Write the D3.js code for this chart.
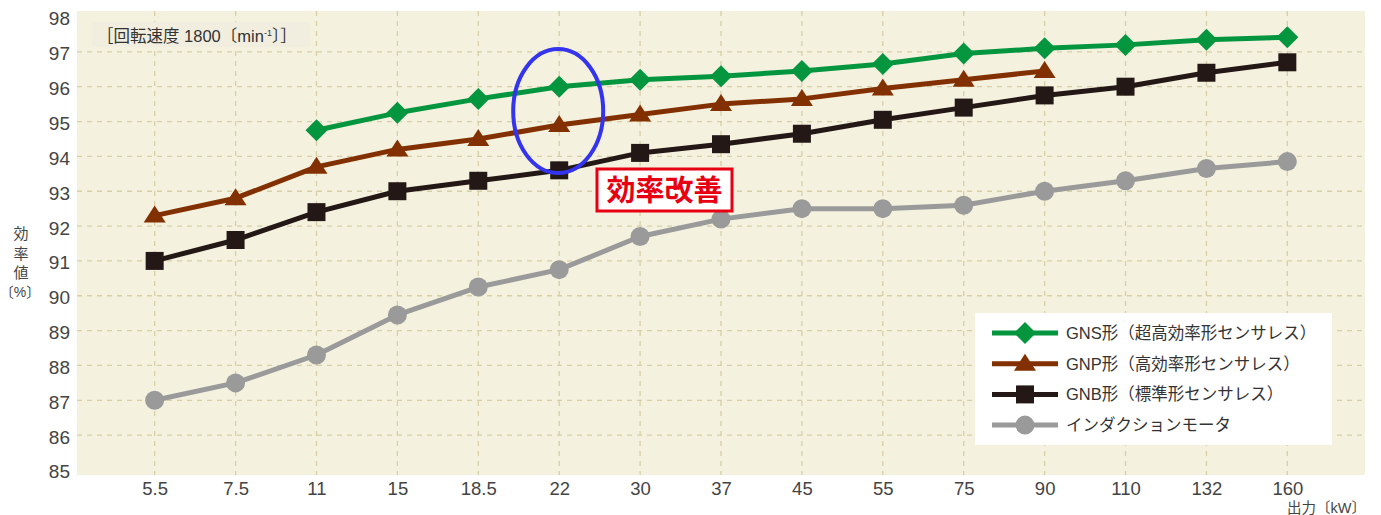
<!DOCTYPE html>
<html><head><meta charset="utf-8">
<script src="https://cdn.jsdelivr.net/npm/d3@7"></script>
<style>
html,body{margin:0;padding:0;background:#fff;}
svg{display:block;}
</style></head>
<body>
<svg id="chart" width="1381" height="515"></svg>
<script>
const categories = ["5.5","7.5","11","15","18.5","22","30","37","45","55","75","90","110","132","160"];
const gnsValues = [null,null,94.75,95.25,95.65,96.0,96.2,96.3,96.45,96.65,96.95,97.1,97.2,97.35,97.42];
const gnpValues = [92.3,92.8,93.7,94.2,94.5,94.9,95.2,95.5,95.65,95.95,96.2,96.45,null,null,null];
const gnbValues = [91.0,91.6,92.4,93.0,93.3,93.6,94.1,94.35,94.65,95.05,95.4,95.75,96.0,96.4,96.7];
const imValues  = [87.0,87.5,88.3,89.45,90.25,90.75,91.7,92.2,92.5,92.5,92.6,93.0,93.3,93.65,93.85];
const seriesNames = ["GNS形（超高効率形センサレス）","GNP形（高効率形センサレス）","GNB形（標準形センサレス）","インダクションモータ"];
const yTicks = [85,86,87,88,89,90,91,92,93,94,95,96,97,98];
const gridTicks = [86,87,88,89,90,91,92,93,94,95,96,97];

const svg = d3.select("#chart");
const plot = {left:77, right:1365, top:11, bottom:475};
const x = d3.scalePoint().domain(categories).range([plot.left, plot.right]).padding(0.96);
const y = d3.scaleLinear().domain([85,98]).range([470, 17]);

const numFont = "'Liberation Sans', Arial, sans-serif";
const jpFont = "'Liberation Sans', 'Noto Sans CJK JP', sans-serif";
const cjkFont = "'Noto Sans CJK JP', sans-serif";

// plot background
svg.append("rect").attr("x",plot.left).attr("y",plot.top)
  .attr("width",plot.right-plot.left).attr("height",plot.bottom-plot.top)
  .attr("fill","#f4f1de");

// grid
const grid = svg.append("g").attr("stroke","#d8cfa6").attr("stroke-width",1.3).attr("stroke-dasharray","5,5");
grid.selectAll("line.h").data(gridTicks).join("line").attr("class","h")
  .attr("x1",plot.left).attr("x2",plot.right).attr("y1",d=>y(d)).attr("y2",d=>y(d));
grid.selectAll("line.v").data(categories).join("line").attr("class","v")
  .attr("x1",d=>x(d)).attr("x2",d=>x(d)).attr("y1",plot.top).attr("y2",plot.bottom);

// y axis labels
const yAxis = d3.axisLeft(y).tickValues(yTicks).tickSize(0).tickPadding(7).tickFormat(d3.format("d"));
const yg = svg.append("g").attr("transform",`translate(${plot.left},0)`).call(yAxis);
yg.select(".domain").remove();
yg.selectAll("text").attr("font-family",numFont).attr("font-size",19).attr("fill","#444")
  .attr("dy","0.42em");

// x axis labels
const xAxis = d3.axisBottom(x).tickSize(0).tickPadding(7);
const xg = svg.append("g").attr("transform",`translate(0,${plot.bottom})`).call(xAxis);
xg.select(".domain").remove();
xg.selectAll("text").attr("font-family",numFont).attr("font-size",18.5).attr("fill","#444")
  .attr("dy","0.7em");

// axis titles
svg.append("text").attr("x",1366).attr("y",513).attr("text-anchor","end")
  .attr("font-family",jpFont).attr("font-size",14.5).attr("fill","#444").text("出力〔kW〕");
const yt = svg.append("g").attr("font-family",cjkFont).attr("font-size",15).attr("fill","#444").attr("text-anchor","middle");
["効","率","値"].forEach((c,i)=>{ yt.append("text").attr("x",21).attr("y",239+i*19.5).text(c); });
yt.append("text").attr("x",20).attr("y",297).attr("font-family",jpFont).attr("font-size",14).text("〔%〕");

// top-left label
svg.append("rect").attr("x",92).attr("y",22).attr("width",218).attr("height",25).attr("fill","#f1eee0");
const lab = svg.append("text").attr("x",97).attr("y",42).attr("font-family",jpFont).attr("font-size",16.5).attr("fill","#333");
lab.append("tspan").text("［回転速度 1800〔min");
lab.append("tspan").attr("dy",-6).attr("font-size",9).text("-1");
lab.append("tspan").attr("dy",6).text("〕］");

// marker shapes
function markerPath(type){
  if(type==="diamond") return "M0,-11L11,0L0,11L-11,0Z";
  if(type==="triangle") return "M0,-10L11,7L-11,7Z";
  if(type==="square") return "M-9,-9H9V9H-9Z";
  return d3.arc()({innerRadius:0,outerRadius:9.5,startAngle:0,endAngle:2*Math.PI});
}

const series = [
  {name:seriesNames[0], values:gnsValues, color:"#03963f", marker:"diamond"},
  {name:seriesNames[1], values:gnpValues, color:"#833000", marker:"triangle"},
  {name:seriesNames[2], values:gnbValues, color:"#231815", marker:"square"},
  {name:seriesNames[3], values:imValues,  color:"#9a9a9a", marker:"circle"}
];

const line = d3.line().defined(d=>d.v!=null).x(d=>x(d.c)).y(d=>y(d.v));
[...series].reverse().forEach(s=>{
  const pts = categories.map((c,i)=>({c, v:s.values[i]}));
  const g = svg.append("g");
  g.append("path").datum(pts).attr("d",line).attr("fill","none")
    .attr("stroke",s.color).attr("stroke-width",5).attr("stroke-linejoin","round");
  g.selectAll("path.m").data(pts.filter(d=>d.v!=null)).join("path").attr("class","m")
    .attr("d",markerPath(s.marker)).attr("fill",s.color)
    .attr("transform",d=>`translate(${x(d.c)},${y(d.v)})`);
});

// blue ellipse annotation around 22 kW
svg.append("ellipse").attr("cx",x("22")-1).attr("cy",y(95.3)).attr("rx",45).attr("ry",62)
  .attr("fill","none").attr("stroke","#3434ef").attr("stroke-width",4);

// red label
svg.append("rect").attr("x",597).attr("y",169).attr("width",135).attr("height",42)
  .attr("fill","#fff").attr("stroke","#e60012").attr("stroke-width",3);
svg.append("text").attr("x",664.5).attr("y",200.5).attr("text-anchor","middle")
  .attr("font-family",cjkFont).attr("font-weight","bold").attr("font-size",29).attr("fill","#e60012")
  .text("効率改善");

// legend
const lg = svg.append("g");
lg.append("rect").attr("x",975).attr("y",313).attr("width",357).attr("height",132).attr("fill","#fff");
series.forEach((s,i)=>{
  const cy = 333 + i*30.7;
  lg.append("line").attr("x1",992).attr("x2",1058).attr("y1",cy).attr("y2",cy)
    .attr("stroke",s.color).attr("stroke-width",5);
  lg.append("path").attr("d",markerPath(s.marker)).attr("fill",s.color)
    .attr("transform",`translate(1025,${cy})`);
  lg.append("text").attr("x",1066).attr("y",cy+6).attr("font-family",jpFont).attr("font-size",16.5)
    .attr("fill","#333").text(s.name);
});
</script>
</body></html>
